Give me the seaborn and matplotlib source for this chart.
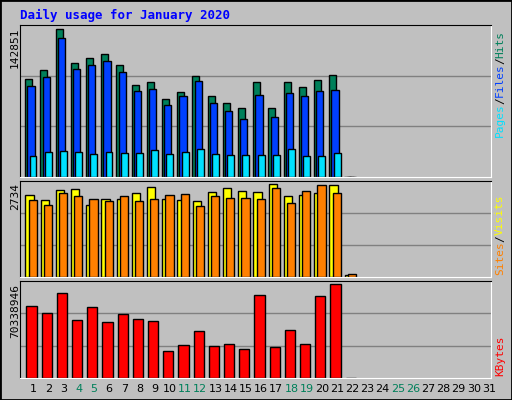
import matplotlib
matplotlib.use("Agg")
import matplotlib.pyplot as plt
import seaborn as sns
import pandas as pd
import numpy as np

days = list(range(1, 23))
hits = [292,319,442,340,355,367,334,274,283,232,253,301,241,223,208,283,208,283,268,289,304,0]
files = [271,298,415,322,334,346,313,256,262,217,241,286,223,199,175,244,181,250,241,256,259,0]
pages = [64,76,79,76,70,76,73,73,82,70,76,85,70,67,67,67,67,85,64,64,73,0]
visits = [242,230,257,260,215,233,233,248,266,233,230,227,251,263,254,251,275,239,242,248,272,5]
sites = [230,215,248,239,233,227,239,227,233,242,245,212,239,236,236,233,263,221,254,272,248,8]
kbytes = [210,189,249,168,207,162,186,171,165,78,96,138,93,99,84,243,90,141,99,240,273,0]
HITS_MAX, VIS_MAX, KB_MAX = 142851, 2734, 70338946
hits = [v * HITS_MAX / 442 for v in hits]
files = [v * HITS_MAX / 442 for v in files]
pages = [v * HITS_MAX / 442 for v in pages]
visits = [v * VIS_MAX / 275 for v in visits]
sites = [v * VIS_MAX / 275 for v in sites]
kbytes = [v * KB_MAX / 273 for v in kbytes]

W, H = 512, 400
fig = plt.figure(figsize=(W/100, H/100), dpi=100)
fig.patch.set_facecolor("#C0C0C0")
fig.patches.append(plt.Rectangle((0, 0), 1, 1, transform=fig.transFigure, fill=False,
                                 edgecolor="black", lw=2))
mono = "DejaVu Sans Mono"

def axes_px(x0, y0, x1, y1):
    return fig.add_axes([x0/W, 1-y1/H, (x1-x0)/W, (y1-y0)/H])

def style(ax, ymax, frac):
    ax.set_facecolor("#C0C0C0")
    ax.set_xlim(0.145, 31.13)
    ax.set_ylim(0, ymax/frac)
    for k in (1, 2):
        ax.axhline(ymax/frac*k/3, color="#808080", lw=1, zorder=0)
    ax.set_xticks([]); ax.set_yticks([])
    ax.set_xlabel(""); ax.set_ylabel("")
    for s in ax.spines.values():
        s.set_color("black")
    ax.spines["right"].set_color("white"); ax.spines["bottom"].set_color("white")

def bars(ax, vals, off, width, color):
    df = pd.DataFrame({"x": [d + off for d in days], "y": vals})
    sns.barplot(data=df, x="x", y="y", native_scale=True, width=width, color=color,
                edgecolor="black", linewidth=1, saturation=1, ax=ax, zorder=2)

ax1 = axes_px(20, 25, 491, 177)
bars(ax1, hits, -0.28, 0.46, "#00805A")
bars(ax1, files, -0.13, 0.48, "#0040FF")
bars(ax1, pages, 0.0, 0.46, "#00E0FF")
style(ax1, HITS_MAX, 442/455)

ax2 = axes_px(20, 181, 491, 277)
bars(ax2, visits, -0.23, 0.55, "#FFFF00")
bars(ax2, sites, -0.02, 0.53, "#FF8000")
style(ax2, VIS_MAX, 275/285)

ax3 = axes_px(20, 281, 491, 378)
bars(ax3, kbytes, -0.1, 0.68, "#FF0000")
style(ax3, KB_MAX, 273/283)

fig.text(20/W, 1-15/H, "Daily usage for January 2020", color="#0000FF", fontsize=9,
         fontweight="bold", family=mono, va="center")
for y, lab in [(28, "142851"), (183, "2734"), (284, "70338946")]:
    fig.text(15/W, 1-y/H, lab, rotation=90, fontsize=8, family=mono, ha="center", va="top")

def right_label(ybottom, parts):
    y = ybottom
    for txt, col in parts:
        t = fig.text(500/W, 1-y/H, txt, rotation=90, fontsize=8, family=mono,
                     color=col, ha="center", va="bottom")
        y -= len(txt) * 6.6
right_label(137, [("Pages", "#00E0FF"), ("/", "#000000"), ("Files", "#0040FF"), ("/", "#000000"), ("Hits", "#00805A")])
right_label(275, [("Sites", "#FF8000"), ("/", "#000000"), ("Visits", "#FFFF00")])
right_label(376, [("KBytes", "#FF0000")])

weekend = {4, 5, 11, 12, 18, 19, 25, 26}
for d in range(1, 32):
    x = 33 + 15.2*(d-1)
    fig.text(x/W, 1-389/H, str(d), fontsize=8, family="DejaVu Sans", ha="center", va="center",
             color="#00805A" if d in weekend else "black")

fig.savefig("out.png", dpi=100, facecolor=fig.get_facecolor())
